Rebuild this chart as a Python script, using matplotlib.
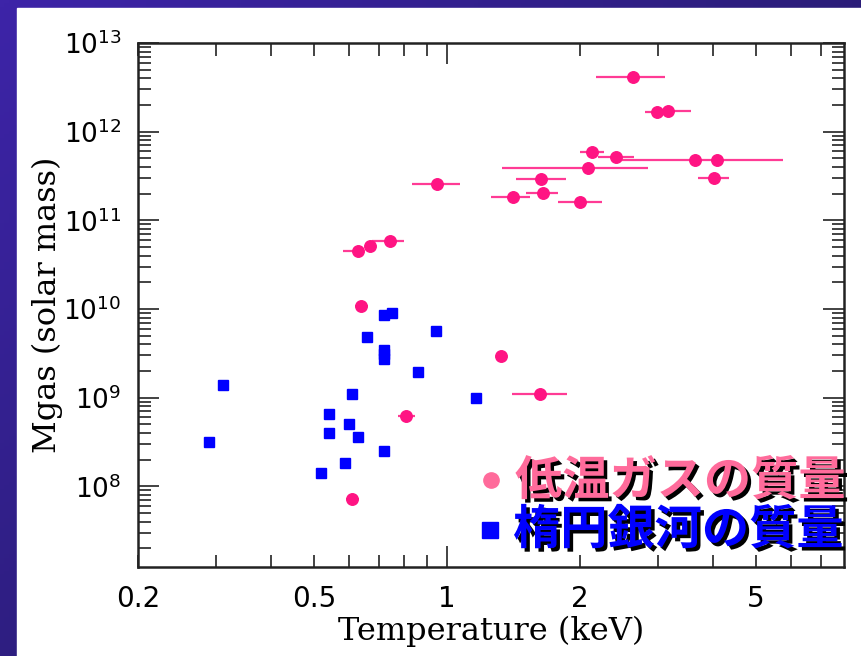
import numpy as np
import matplotlib.pyplot as plt
import matplotlib.patheffects as pe
from matplotlib.colors import LinearSegmentedColormap
from matplotlib.ticker import FixedLocator, FuncFormatter, NullFormatter

# hot gas: temperature (keV) with horizontal error range, gas mass (solar mass)
gas_T = [2.63, 2.99, 3.16, 2.13, 2.41, 2.08, 3.63, 4.08, 1.63, 4.01, 0.95, 1.65,
         1.41, 2.00, 0.742, 0.668, 0.630, 0.638, 1.326, 1.62, 0.808, 0.610]
gas_T_lo = [2.17, 2.80, 3.04, 2.00, 2.20, 1.33, 3.63, 2.47, 1.43, 3.69, 0.832, 1.51,
            1.26, 1.78, 0.676, 0.668, 0.583, 0.620, 1.300, 1.40, 0.776, 0.590]
gas_T_hi = [3.11, 3.16, 3.57, 2.26, 2.64, 2.84, 3.63, 5.74, 1.86, 4.34, 1.068, 1.78,
            1.54, 2.24, 0.801, 0.668, 0.647, 0.664, 1.355, 1.87, 0.848, 0.633]
gas_M = [4.14e12, 1.65e12, 1.73e12, 5.86e11, 5.19e11, 3.90e11, 4.76e11, 4.76e11,
         2.91e11, 2.97e11, 2.58e11, 2.05e11, 1.85e11, 1.62e11, 5.83e10, 5.12e10,
         4.54e10, 1.09e10, 2.95e9, 1.09e9, 6.17e8, 7.2e7]

# elliptical galaxies: temperature (keV), mass
gal_T = [0.720, 0.752, 0.658, 0.943, 0.720, 0.720, 0.720, 0.858, 0.3115, 0.610,
         1.160, 0.5395, 0.601, 0.5395, 0.630, 0.290, 0.720, 0.589, 0.519]
gal_M = [8.52e9, 8.97e9, 4.88e9, 5.63e9, 3.47e9, 3.09e9, 2.71e9, 1.97e9, 1.40e9,
         1.09e9, 9.97e8, 6.49e8, 5.09e8, 4.01e8, 3.61e8, 3.15e8, 2.50e8, 1.83e8,
         1.42e8]

x_labels = {0.2: '0.2', 0.5: '0.5', 2: '2', 5: '5'}
legend_gas = '低温ガスの質量'
legend_gal = '楕円銀河の質量'

pink = '#ff1483'
pink_light = '#ff6b9b'
blue = '#0000ff'

fig = plt.figure(figsize=(8.61, 6.56), dpi=100)

# dark slide background with a white panel
bg = fig.add_axes([0, 0, 1, 1], zorder=-10)
gx, gy = np.meshgrid(np.linspace(0, 1, 200), np.linspace(0, 1, 200))
grad = gx * 0.55 + gy * 0.45
bg.imshow(grad, extent=[0, 1, 0, 1], origin='upper', aspect='auto',
          cmap=LinearSegmentedColormap.from_list('slide', ['#3d24a8', '#1c1752']))
bg.add_patch(plt.Rectangle((17 / 861, 0), 1, 1 - 8 / 656, color='white'))
bg.set_xlim(0, 1)
bg.set_ylim(0, 1)
bg.axis('off')

ax = fig.add_axes([138 / 861, 89 / 656, 706 / 861, 524 / 656])
ax.set_xscale('log')
ax.set_yscale('log')

T = np.array(gas_T)
xerr = [T - np.array(gas_T_lo), np.array(gas_T_hi) - T]
ax.errorbar(gas_T, gas_M, xerr=xerr, fmt='o', ms=8.3, color=pink, mec=pink,
            ecolor='#ff3b95', elinewidth=1.6, capsize=0, zorder=3)
ax.plot(gal_T, gal_M, 's', ms=7.5, color=blue, mec=blue, zorder=3)

ax.set_xlim(0.2, 7.9)
ax.set_ylim(1.23e7, 1e13)

# x: long tick only at 1, labelled short ticks elsewhere
ax.xaxis.set_major_locator(FixedLocator([1]))
ax.xaxis.set_major_formatter(FuncFormatter(lambda v, p: '1'))
minor_x = [0.2, 0.3, 0.4, 0.5, 0.6, 0.7, 0.8, 0.9, 2, 3, 4, 5, 6, 7]
ax.xaxis.set_minor_locator(FixedLocator(minor_x))
ax.xaxis.set_minor_formatter(FuncFormatter(
    lambda v, p: x_labels.get(round(v, 1) if v < 1 else round(v), '')))

ax.yaxis.set_major_locator(FixedLocator([10.0 ** k for k in range(8, 14)]))
ax.yaxis.set_major_formatter(FuncFormatter(
    lambda v, p: r'$10^{%d}$' % round(np.log10(v))))
ax.yaxis.set_minor_locator(FixedLocator(
    [m * 10.0 ** k for k in range(7, 13) for m in range(2, 10)]))
ax.yaxis.set_minor_formatter(NullFormatter())

ax.tick_params(which='both', direction='in', top=True, right=True,
               color='#222222', width=1.2)
ax.tick_params(which='major', length=15)
ax.tick_params(which='minor', length=9)
ax.tick_params(axis='x', which='both', labelsize=20, pad=13)
ax.tick_params(axis='y', which='major', labelsize=19, pad=12)
for s in ax.spines.values():
    s.set_linewidth(1.8)
    s.set_color('#222222')

ax.set_xlabel('Temperature (keV)', family='DejaVu Serif', fontsize=23,
              labelpad=2)
ax.set_ylabel('Mgas (solar mass)', family='DejaVu Serif', fontsize=23,
              labelpad=0)

# legend written as large shadowed text
shadow = [pe.SimplePatchShadow(offset=(2.5, -2.5), shadow_rgbFace='black',
                               alpha=1.0), pe.Normal()]
jp = ['Noto Sans CJK JP', 'DejaVu Sans']
fig.text(515 / 861, 1 - 481 / 656, legend_gas, family=jp, weight='bold',
         fontsize=34, color=pink_light, va='center', ha='left',
         path_effects=shadow)
fig.text(513 / 861, 1 - 530 / 656, legend_gal, family=jp, weight='bold',
         fontsize=34, color=blue, va='center', ha='left',
         path_effects=shadow)
ax.plot([491 / 861], [1 - 480 / 656], 'o', ms=11, color=pink_light,
        transform=fig.transFigure, clip_on=False)
ax.plot([490 / 861], [1 - 530 / 656], 's', ms=11, color=blue,
        transform=fig.transFigure, clip_on=False)

fig.savefig('out.png', dpi=100)
